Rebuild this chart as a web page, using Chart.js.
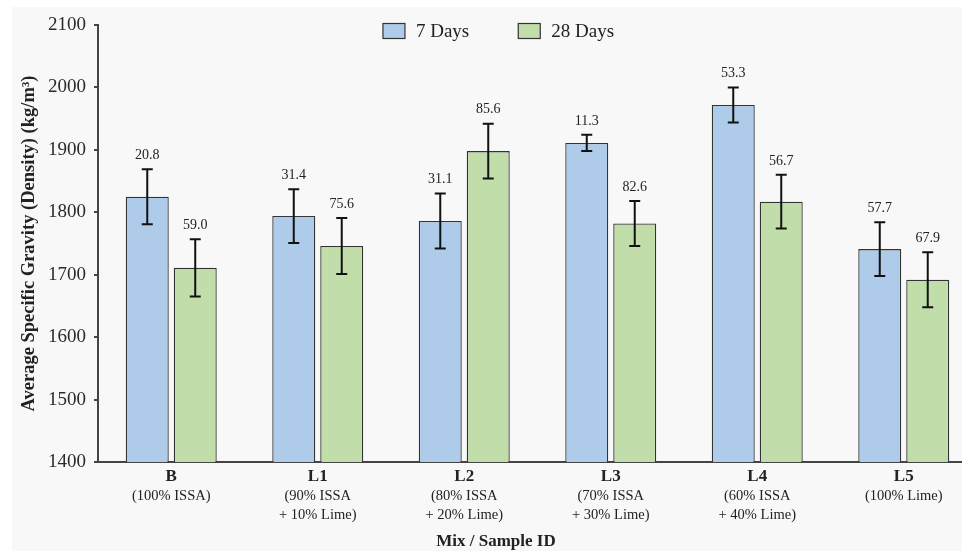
<!DOCTYPE html>
<html>
<head>
<meta charset="utf-8">
<script src="https://cdn.jsdelivr.net/npm/chart.js@4.4.1/dist/chart.umd.min.js"></script>
<style>
  html, body { margin: 0; padding: 0; background: #ffffff; overflow: hidden; }
  #wrap { width: 995px; height: 551px; }
</style>
</head>
<body>
<div id="wrap"><canvas id="c" width="995" height="551"></canvas></div>
<script>
// Mix IDs and their composition notes
const categories = ['B', 'L1', 'L2', 'L3', 'L4', 'L5'];
const mixNotes = [
  ['(100% ISSA)'],
  ['(90% ISSA', '+ 10% Lime)'],
  ['(80% ISSA', '+ 20% Lime)'],
  ['(70% ISSA', '+ 30% Lime)'],
  ['(60% ISSA', '+ 40% Lime)'],
  ['(100% Lime)']
];

// Average density (kg/m3) at each curing age
const density7 = [1825, 1794, 1786, 1911, 1972, 1741];
const density28 = [1711, 1746, 1898, 1782, 1817, 1692];

// Error bar half-heights (kg/m3)
const error7 = [44, 43, 44, 13, 28, 43];
const error28 = [46, 45, 44, 36, 43, 44];

// Annotations printed above each error bar
const note7 = ['20.8', '31.4', '31.1', '11.3', '53.3', '57.7'];
const note28 = ['59.0', '75.6', '85.6', '82.6', '56.7', '67.9'];

// Y axis ticks
const yTicks = [1400, 1500, 1600, 1700, 1800, 1900, 2000, 2100];

const seriesNames = ['7 Days', '28 Days'];
const seriesFill = ['#afcbea', '#c1dda9'];
const SERIF = '"Liberation Serif", "Times New Roman", serif';
const INK = '#222222';

const panelBackground = {
  id: 'panelBackground',
  beforeDraw(chart) {
    const ctx = chart.ctx;
    ctx.save();
    ctx.fillStyle = '#ffffff';
    ctx.fillRect(0, 0, chart.width, chart.height);
    ctx.fillStyle = '#f8f8f8';
    ctx.fillRect(12, 7, chart.width - 12, chart.height - 7);
    ctx.restore();
  }
};

const errorBars = {
  id: 'errorBars',
  afterDatasetsDraw(chart) {
    const ctx = chart.ctx;
    const y = chart.scales.y;
    const errs = [error7, error28];
    const notes = [note7, note28];
    ctx.save();
    chart.data.datasets.forEach((ds, di) => {
      const meta = chart.getDatasetMeta(di);
      meta.data.forEach((bar, i) => {
        const v = ds.data[i];
        const e = errs[di][i];
        const yTop = y.getPixelForValue(v + e);
        const yBot = y.getPixelForValue(v - e);
        const x = bar.x;
        const cap = 5.5;
        ctx.strokeStyle = '#111111';
        ctx.lineWidth = 2;
        ctx.beginPath();
        ctx.moveTo(x, yTop); ctx.lineTo(x, yBot);
        ctx.moveTo(x - cap, yTop); ctx.lineTo(x + cap, yTop);
        ctx.moveTo(x - cap, yBot); ctx.lineTo(x + cap, yBot);
        ctx.stroke();
        ctx.fillStyle = INK;
        ctx.font = '14px ' + SERIF;
        ctx.textAlign = 'center';
        ctx.textBaseline = 'middle';
        ctx.fillText(notes[di][i], x, yTop - 14);
      });
    });
    ctx.restore();
  }
};

const mixAnnotations = {
  id: 'mixAnnotations',
  afterDraw(chart) {
    const ctx = chart.ctx;
    const x = chart.scales.x;
    const base = chart.chartArea.bottom;
    ctx.save();
    ctx.fillStyle = INK;
    ctx.textAlign = 'center';
    ctx.textBaseline = 'middle';
    ctx.font = '14.5px ' + SERIF;
    mixNotes.forEach((lines, i) => {
      const px = x.getPixelForValue(i);
      lines.forEach((t, li) => ctx.fillText(t, px, base + 34 + li * 19));
    });
    // axis caption
    ctx.font = 'bold 17px ' + SERIF;
    ctx.fillText('Mix / Sample ID', chart.width / 2 - 1.5, base + 80);

    // legend
    ctx.font = '19px ' + SERIF;
    const boxW = 22, boxH = 15, gapBox = 11, gapItem = 49;
    const widths = seriesNames.map(n => ctx.measureText(n).width);
    const total = widths.reduce((a, w) => a + boxW + gapBox + w, 0) + gapItem;
    let lx = chart.width / 2 + 1 - total / 2;
    const ly = 31;
    ctx.textAlign = 'left';
    seriesNames.forEach((n, i) => {
      ctx.fillStyle = seriesFill[i];
      ctx.fillRect(lx, ly - boxH / 2, boxW, boxH);
      ctx.strokeStyle = '#333333';
      ctx.lineWidth = 1.2;
      ctx.strokeRect(lx, ly - boxH / 2, boxW, boxH);
      ctx.fillStyle = INK;
      ctx.fillText(n, lx + boxW + gapBox, ly + 1);
      lx += boxW + gapBox + widths[i] + gapItem;
    });
    ctx.restore();
  }
};

new Chart(document.getElementById('c'), {
  type: 'bar',
  data: {
    labels: categories,
    datasets: [
      {
        label: seriesNames[0],
        data: density7,
        backgroundColor: seriesFill[0],
        borderColor: '#333333',
        borderWidth: 1.3,
        categoryPercentage: 0.655,
        barPercentage: 0.896
      },
      {
        label: seriesNames[1],
        data: density28,
        backgroundColor: seriesFill[1],
        borderColor: '#333333',
        borderWidth: 1.3,
        categoryPercentage: 0.655,
        barPercentage: 0.896
      }
    ]
  },
  options: {
    responsive: false,
    devicePixelRatio: 1,
    animation: false,
    layout: { padding: { top: 25, right: 18, left: 0, bottom: 0 } },
    plugins: {
      legend: { display: false },
      tooltip: { enabled: false }
    },
    scales: {
      x: {
        grid: { display: false, drawTicks: false },
        border: { display: true, color: '#444444', width: 2 },
        ticks: {
          color: INK,
          padding: 4,
          font: { family: SERIF, size: 17, weight: 'bold' }
        },
        afterFit(scale) { scale.height = 89; }
      },
      y: {
        min: 1400,
        max: 2100,
        afterBuildTicks(scale) { scale.ticks = yTicks.map(v => ({ value: v })); },
        grid: { drawOnChartArea: false, drawTicks: true, tickLength: 4, color: '#444444', lineWidth: 2 },
        border: { display: true, color: '#444444', width: 2 },
        ticks: {
          color: '#2a2a2a',
          padding: 8,
          font: { family: SERIF, size: 19 },
          callback: (value) => String(value)
        },
        title: {
          display: true,
          text: 'Average Specific Gravity (Density) (kg/m³)',
          color: INK,
          padding: { top: 18, bottom: 0 },
          font: { family: SERIF, size: 18.5, weight: 'bold' }
        },
        afterFit(scale) { scale.width = 98; }
      }
    }
  },
  plugins: [panelBackground, errorBars, mixAnnotations]
});
</script>
</body>
</html>
